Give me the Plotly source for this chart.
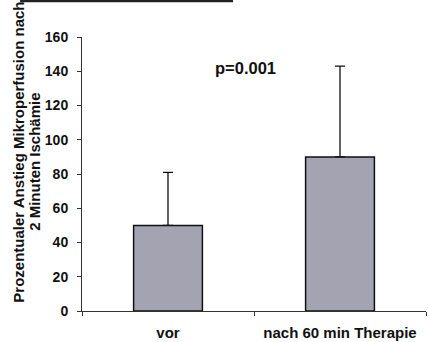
import plotly.graph_objects as go

categories = ["vor", "nach 60 min Therapie"]
means = [50, 90]
sd_plus = [31, 53]
y_ticks = [0, 20, 40, 60, 80, 100, 120, 140, 160]
y_title_line1 = "Prozentualer Anstieg Mikroperfusion nach"
y_title_line2 = "2 Minuten Ischämie"
p_text = "p=0.001"

FONT = "Arial, Liberation Sans, sans-serif"

fig = go.Figure()
fig.add_trace(go.Bar(
    x=categories, y=means, width=0.4,
    marker=dict(color="#a3a3b1", line=dict(color="#111111", width=1.5)),
    error_y=dict(type="data", array=sd_plus, symmetric=False, arrayminus=[0, 0],
                 color="#111111", thickness=1.3, width=5),
))

fig.update_layout(
    width=429, height=342,
    margin=dict(l=82, r=3, t=37, b=31),
    paper_bgcolor="white", plot_bgcolor="white",
    showlegend=False,
    font=dict(family=FONT, size=14, color="#111111", weight="bold"),
    bargap=0.6,
)
fig.update_yaxes(
    range=[0, 160], tickvals=y_ticks, showgrid=False, zeroline=False,
    showline=True, linecolor="#333333", linewidth=1, automargin=False,
    ticks="outside", ticklen=4, tickcolor="#333333",
    ticklabelstandoff=6,
    tickfont=dict(family=FONT, size=14, weight="bold"),
)
fig.update_xaxes(
    showgrid=False, showline=True, linecolor="#333333", linewidth=1, automargin=False,
    ticks="outside", tickson="boundaries", ticklen=4, tickcolor="#333333",
    ticklabelstandoff=8,
    tickfont=dict(family=FONT, size=15, weight="bold"),
)
fig.add_annotation(
    text=y_title_line1, textangle=-90, showarrow=False,
    xref="paper", yref="paper", x=-0.183, y=0.578, xanchor="center", yanchor="middle",
    font=dict(family=FONT, size=15, weight="bold"),
)
fig.add_annotation(
    text=y_title_line2, textangle=-90, showarrow=False,
    xref="paper", yref="paper", x=-0.137, y=0.544, xanchor="center", yanchor="middle",
    font=dict(family=FONT, size=15, weight="bold"),
)
fig.add_annotation(
    text=p_text, showarrow=False, xref="paper", yref="y",
    x=0.474, y=142, xanchor="center", yanchor="middle",
    font=dict(family=FONT, size=16.5, weight="bold"),
)
fig.add_shape(type="line", xref="paper", yref="paper",
              x0=-0.18, x1=0.439, y0=1.131, y1=1.131,
              line=dict(color="#222222", width=2.5))

fig.write_html("out.html", config={"displayModeBar": False},
               post_script="document.body.style.margin='0';")
